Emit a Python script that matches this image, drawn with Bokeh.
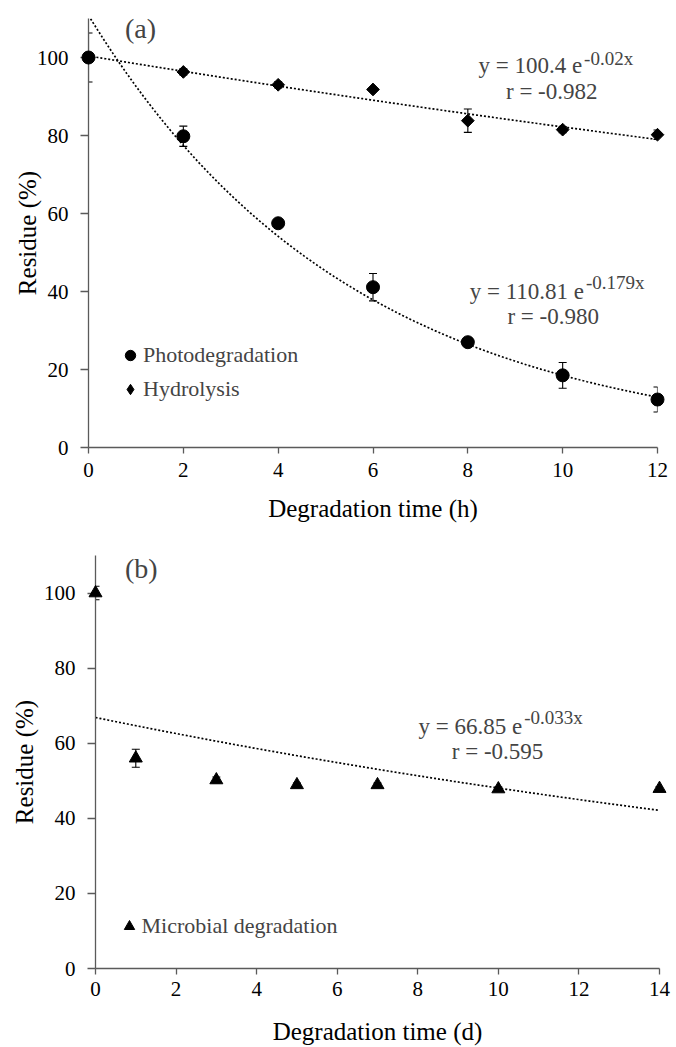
import numpy as np
from bokeh.plotting import figure
from bokeh.models import (ColumnDataSource, Range1d, Whisker, TeeHead, Label,
                          Legend, LegendItem, FixedTicker)
from bokeh.embed import file_html
from bokeh.resources import INLINE

FONT = "Liberation Serif"
AXIS_COLOR = "#5a5a5a"

# ---------------- data ----------------
time_h = [0, 2, 4, 6, 8, 10, 12]
photo = [100.0, 79.8, 57.5, 41.1, 27.0, 18.5, 12.3]
photo_err = [6.3, 2.6, 0.8, 3.5, 0.8, 3.3, 3.2]
hydro = [100.0, 96.3, 93.0, 91.8, 83.8, 81.5, 80.2]
hydro_err = [1.0, 0.8, 0.8, 0.5, 3.0, 0.8, 1.2]

time_d = [0, 1, 3, 5, 7, 10, 14]
micro = [100.0, 56.0, 50.2, 48.9, 48.9, 47.8, 47.9]
micro_err = [1.8, 2.4, 0.8, 0.5, 0.5, 0.5, 0.5]

# fitted exponential trend lines printed on the chart: y = A e^(k x)
photo_A, photo_k, photo_r = 110.81, -0.179, "-0.980"
hydro_A, hydro_k, hydro_r = 100.4, -0.02, "-0.982"
micro_A, micro_k, micro_r = 66.85, -0.033, "-0.595"

ticks_h = [0, 2, 4, 6, 8, 10, 12]
ticks_d = [0, 2, 4, 6, 8, 10, 12, 14]
ticks_y = [0, 20, 40, 60, 80, 100]

LIFT = 7  # px


def base_fig(xmax, height, left, right, top, bottom, xticks):
    p = figure(width=676, height=height, x_range=Range1d(0, xmax),
               y_range=Range1d(0, 110), output_backend="svg",
               toolbar_location=None, min_border_left=left,
               min_border_right=right, min_border_top=top,
               min_border_bottom=bottom)
    p.grid.visible = False
    p.outline_line_color = None
    p.background_fill_color = "white"
    p.xaxis.ticker = FixedTicker(ticks=xticks)
    p.yaxis.ticker = FixedTicker(ticks=ticks_y)
    for ax in (p.xaxis[0], p.yaxis[0]):
        ax.axis_line_color = AXIS_COLOR
        ax.axis_line_width = 1.3
        ax.major_tick_line_color = AXIS_COLOR
        ax.major_tick_line_width = 1.3
        ax.minor_tick_line_color = None
        ax.major_tick_in = 0
        ax.major_label_text_font = FONT
        ax.major_label_text_font_size = "21px"
        ax.major_label_text_color = "black"
        ax.axis_label_text_font = FONT
        ax.axis_label_text_font_size = "25px"
        ax.axis_label_text_font_style = "normal"
        ax.axis_label_text_color = "black"
    p.xaxis.major_tick_out = 6
    p.yaxis.major_tick_out = 8
    p.yaxis.major_label_standoff = 12
    p.yaxis.axis_label = "Residue (%)"
    return p


def add_fit(p, A, k, xmax):
    xs = np.linspace(0, xmax, 300)
    p.line(xs, A * np.exp(k * xs), line_color="black", line_width=1.7,
           line_dash="2 2")


def add_eq(p, A, k, r, join_x, base_y, raise_px, r_x, r_y):
    p.add_layout(Label(x=join_x, y=base_y, y_offset=LIFT, text=f"y = {A} e",
                       text_font=FONT, text_font_size="23px",
                       text_align="right", text_baseline="alphabetic"))
    p.add_layout(Label(x=join_x, y=base_y, x_offset=2, y_offset=raise_px + LIFT,
                       text=f"{k}x", text_font=FONT, text_font_size="19px",
                       text_align="left", text_baseline="alphabetic"))
    p.add_layout(Label(x=r_x, y=r_y, y_offset=LIFT, text=f"r = {r}",
                       text_font=FONT, text_font_size="23px",
                       text_align="center", text_baseline="alphabetic"))


def add_err(p, xs, ys, errs):
    src = ColumnDataSource(dict(x=xs, upper=[a + b for a, b in zip(ys, errs)],
                                lower=[a - b for a, b in zip(ys, errs)]))
    w = Whisker(source=src, base="x", upper="upper", lower="lower",
                dimension="height", line_color="black", line_width=1.1,
                upper_head=TeeHead(size=8, line_color="black", line_width=1.1),
                lower_head=TeeHead(size=8, line_color="black", line_width=1.1))
    p.add_layout(w)


def style_legend(lg):
    lg.border_line_color = None
    lg.background_fill_alpha = 0
    lg.padding = 0
    lg.margin = 0
    lg.spacing = 4
    lg.glyph_width = 26
    lg.glyph_height = 30
    lg.label_height = 30
    lg.label_standoff = 0
    lg.label_text_font = FONT
    lg.label_text_font_size = "22px"


# ---------------- panel (a) ----------------
pa = base_fig(12, 532, 88, 19, 18, 85, ticks_h)
pa.xaxis.axis_label = "Degradation time (h)"
pa.xaxis.major_label_standoff = 9
pa.xaxis.axis_label_standoff = 15
pa.yaxis.axis_label_standoff = -7

add_fit(pa, photo_A, photo_k, 12)
add_fit(pa, hydro_A, hydro_k, 12)
add_err(pa, time_h, photo, photo_err)
add_err(pa, time_h, hydro, hydro_err)
r_photo = pa.scatter(time_h, photo, marker="circle", size=13, color="black",
                     level="overlay")
hydro_src = ColumnDataSource(dict(x=time_h, y=hydro))
r_hydro = pa.scatter("x", "y", source=hydro_src, marker="square",
                     angle=np.pi / 4, size=9, color="black", level="overlay")
# same points as a diamond glyph, used only for the legend key
r_hydro_key = pa.scatter("x", "y", source=hydro_src, marker="diamond",
                         size=14, color="black", visible=False)

add_eq(pa, hydro_A, hydro_k, hydro_r, 10.41, 96.1, 7, 9.77, 89.4)
add_eq(pa, photo_A, photo_k, photo_r, 10.45, 38.3, 9, 9.80, 31.7)
pa.add_layout(Label(x=0.77, y=105.1, y_offset=LIFT + 2, text="(a)",
                    text_font=FONT, text_font_size="28px",
                    text_baseline="alphabetic"))

lga = Legend(items=[LegendItem(label="Photodegradation", renderers=[r_photo]),
                    LegendItem(label="Hydrolysis", renderers=[r_hydro_key])],
             location=(29, 43))
style_legend(lga)
pa.add_layout(lga)

# ---------------- panel (b) ----------------
pb = base_fig(14, 526, 95, 17, 23, 90, ticks_d)
pb.xaxis.axis_label = "Degradation time (d)"
pb.xaxis.major_label_standoff = 7
pb.xaxis.axis_label_standoff = 19
pb.yaxis.axis_label_standoff = 3

add_fit(pb, micro_A, micro_k, 14)
add_err(pb, time_d, micro, micro_err)
r_micro = pb.scatter(time_d, micro, marker="triangle", size=13, color="black",
                     level="overlay")
add_eq(pb, micro_A, micro_k, micro_r, 10.59, 62.6, 9, 9.98, 55.9)
pb.add_layout(Label(x=0.73, y=104.1, y_offset=LIFT + 2, text="(b)",
                    text_font=FONT, text_font_size="28px",
                    text_baseline="alphabetic"))

lgb = Legend(items=[LegendItem(label="Microbial degradation", renderers=[r_micro])],
             location=(20.5, 27))
style_legend(lgb)
pb.add_layout(lgb)

open("out.html", "w").write(file_html([pa, pb], INLINE))
